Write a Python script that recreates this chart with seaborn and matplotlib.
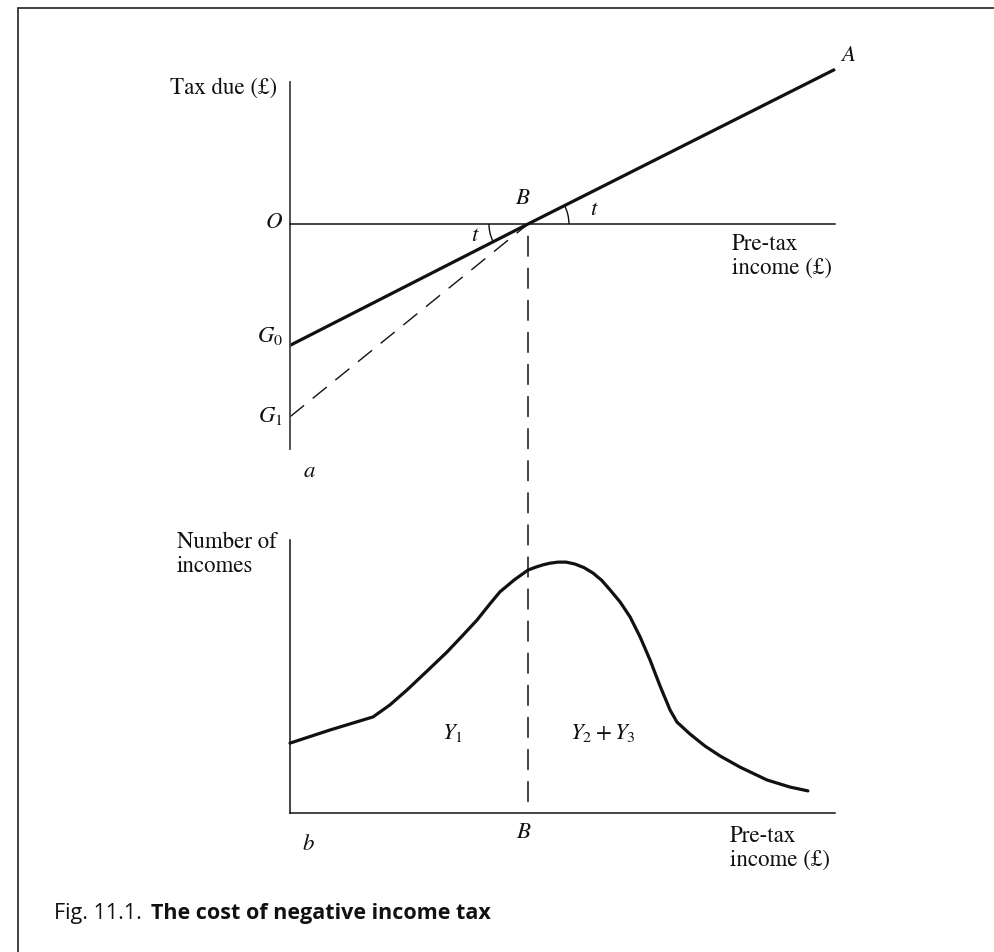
import matplotlib
matplotlib.use("Agg")
import matplotlib.pyplot as plt
from matplotlib.patches import Arc, ConnectionPatch
from matplotlib.lines import Line2D
import seaborn as sns

# ---- Panel a: tax due against pre-tax income (£000) ----
schedule_income = [0.0, 10.0, 22.9]     # G0 -> B -> A
schedule_tax = [-5.1, 0.0, 6.5]
topup_income = [0.0, 10.0]              # G1 -> B (dashed)
topup_tax = [-8.1, 0.0]
breakeven_income = 10.0                 # point B
income_axis_max = 22.9
tax_axis_range = (-9.45, 5.95)
tax_rate_angle = 26.6                   # slope angle t, degrees

# ---- Panel b: distribution of incomes ----
dist_income = [0.00, 1.68, 3.49, 4.20, 4.92, 5.76, 6.60, 7.23, 7.86, 8.40,
               8.82, 9.41, 10.00, 10.34, 10.63, 10.92, 11.26, 11.60, 11.97,
               12.35, 12.73, 13.10, 13.45, 13.87, 14.29, 14.71, 15.13, 15.55,
               15.97, 16.26, 16.81, 17.44, 18.07, 18.91, 20.04, 21.01, 21.76]
dist_count = [25.6, 30.4, 35.2, 39.6, 45.1, 52.0, 59.0, 64.8, 70.7, 76.6,
              81.0, 85.3, 89.0, 90.1, 90.9, 91.5, 91.9, 91.9, 91.2,
              89.9, 87.9, 85.2, 81.7, 77.3, 71.8, 64.5, 56.0, 46.5,
              37.7, 33.3, 28.9, 24.5, 20.9, 16.8, 12.1, 9.5, 8.1]
count_axis_max = 100.0

W, H = 995, 952
sns.set_theme(style="white")
plt.rcParams["font.family"] = ["STIXGeneral", "DejaVu Serif"]
plt.rcParams["mathtext.fontset"] = "stix"

INK = "#111111"
SERIF = 16.5

fig = plt.figure(figsize=(W / 100, H / 100), dpi=100)
fig.patch.set_facecolor("white")


def px_axes(left, right, top, bottom):
    return fig.add_axes([left / W, 1 - bottom / H, (right - left) / W, (bottom - top) / H])


ax_a = px_axes(266.2, 861.2, 57.4, 485.8)
ax_a.set_xlim(-1, 24)
ax_a.set_ylim(-11, 7)

ax_b = px_axes(266.2, 861.2, 512.7, 867.6)
ax_b.set_xlim(-1, 24)
ax_b.set_ylim(-20, 110)

for ax in (ax_a, ax_b):
    ax.set_facecolor("none")
    ax.set_xticks([])
    ax.set_yticks([])
    ax.set_xlabel("")
    ax.set_ylabel("")
    for side in ("top", "right"):
        ax.spines[side].set_visible(False)
    ax.spines["left"].set_position(("data", 0))
    ax.spines["bottom"].set_position(("data", 0))

ax_a.spines["left"].set_bounds(*tax_axis_range)
ax_a.spines["left"].set_color("#444444")
ax_a.spines["left"].set_linewidth(1.3)
ax_a.spines["bottom"].set_bounds(0, income_axis_max)
ax_a.spines["bottom"].set_color(INK)
ax_a.spines["bottom"].set_linewidth(1.1)

ax_b.spines["left"].set_bounds(0, count_axis_max)
ax_b.spines["bottom"].set_bounds(0, income_axis_max)
for s in ("left", "bottom"):
    ax_b.spines[s].set_color(INK)
    ax_b.spines[s].set_linewidth(1.1)

# tax schedule and the alternative (dashed) schedule
sns.lineplot(x=schedule_income, y=schedule_tax, ax=ax_a, color=INK,
             linewidth=2.3, solid_capstyle="butt")
sns.lineplot(x=topup_income, y=topup_tax, ax=ax_a, color=INK,
             linewidth=1.0, linestyle=(0, (13, 8)))

# angle marks for the tax rate t
ax_a.add_patch(Arc((breakeven_income, 0), 3.44, 3.44, theta1=0,
                   theta2=tax_rate_angle, color=INK, lw=1.0))
ax_a.add_patch(Arc((breakeven_income, 0), 3.28, 3.28, theta1=180,
                   theta2=180 + tax_rate_angle, color=INK, lw=1.0))

# income distribution
sns.lineplot(x=dist_income, y=dist_count, ax=ax_b, color=INK, linewidth=2.3,
             solid_joinstyle="round")

# dashed drop line from B to the income axis of panel b
drop = ConnectionPatch(xyA=(breakeven_income, 0), coordsA=ax_a.transData,
                       xyB=(breakeven_income, 0), coordsB=ax_b.transData,
                       color=INK, lw=1.1, linestyle=(13, (13, 8)))
fig.add_artist(drop)

# ---- labels, panel a ----
ax_a.text(-0.55, 5.46, "Tax due (£)", ha="right", va="baseline", fontsize=SERIF, color=INK)
ax_a.text(-0.34, 0.05, "O", ha="right", va="center", fontsize=SERIF, style="italic", color=INK)
ax_a.text(9.75, 1.05, "B", ha="center", va="center", fontsize=SERIF, style="italic", color=INK)
ax_a.text(12.73, 0.59, "t", ha="center", va="center", fontsize=SERIF, style="italic", color=INK)
ax_a.text(7.73, -0.5, "t", ha="center", va="center", fontsize=SERIF, style="italic", color=INK)
ax_a.text(23.45, 7.1, "A", ha="center", va="center", fontsize=SERIF, style="italic", color=INK)
ax_a.text(-0.3, -4.96, r"$G_0$", ha="right", va="baseline", fontsize=SERIF, color=INK)
ax_a.text(-0.3, -8.32, r"$G_1$", ha="right", va="baseline", fontsize=SERIF, color=INK)
ax_a.text(0.8, -10.42, "a", ha="center", va="center", fontsize=SERIF, style="italic", color=INK)
ax_a.text(18.57, -1.37, "Pre-tax\nincome (£)", ha="left", va="center",
          fontsize=SERIF, linespacing=1.15, color=INK)

# ---- labels, panel b ----
ax_b.text(-4.75, 94.9, "Number of\nincomes", ha="left", va="center",
          fontsize=SERIF, linespacing=1.15, color=INK)
ax_b.text(6.85, 29.3, r"$Y_1$", ha="center", va="center", fontsize=SERIF, color=INK)
ax_b.text(13.15, 29.3, r"$Y_2 + Y_3$", ha="center", va="center", fontsize=SERIF, color=INK)
ax_b.text(0.76, -11.7, "b", ha="center", va="center", fontsize=SERIF, style="italic", color=INK)
ax_b.text(9.79, -7.3, "B", ha="center", va="center", fontsize=SERIF, style="italic", color=INK)
ax_b.text(18.49, -13.0, "Pre-tax\nincome (£)", ha="left", va="center",
          fontsize=SERIF, linespacing=1.15, color=INK)

# ---- frame rules ----
fig.add_artist(Line2D([18 / W, 1.0], [1 - 8 / H, 1 - 8 / H], transform=fig.transFigure,
                      color="#333333", lw=1.3))
fig.add_artist(Line2D([18 / W, 18 / W], [0.0, 1 - 8 / H], transform=fig.transFigure,
                      color="#333333", lw=1.3))

# ---- caption ----
CAP_FONT = ["Open Sans", "DejaVu Sans"]
cap1 = fig.text(54 / W, 1 - 913 / H, "Fig. 11.1.", ha="left", va="center",
                fontsize=15.5, family=CAP_FONT, color=INK)
ax_b.annotate("The cost of negative income tax", xy=(1, 0), xycoords=cap1,
              xytext=(9, 0), textcoords="offset pixels", ha="left", va="bottom",
              fontsize=15.5, family=CAP_FONT, fontweight="bold", color=INK,
              annotation_clip=False)

fig.savefig("out.png", dpi=100)
